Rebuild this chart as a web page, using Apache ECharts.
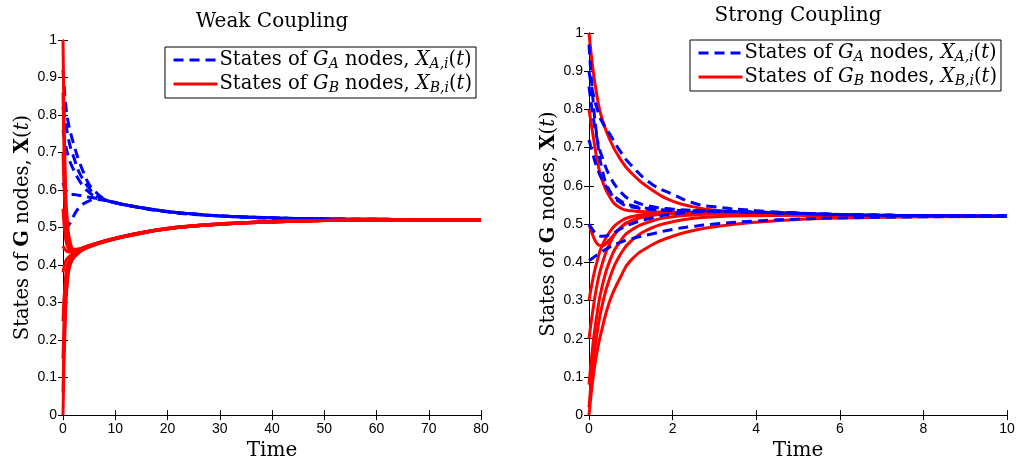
<!DOCTYPE html>
<html>
<head>
<meta charset="utf-8">
<script src="https://cdn.jsdelivr.net/npm/echarts@6/dist/echarts.min.js"></script>
<style>
  html, body { margin: 0; padding: 0; background: #fff; }
  #chart { width: 1019px; height: 466px; }
</style>
</head>
<body>
<div id="chart"></div>
<script>
// ---- Weak coupling: node states over time ----
const weakTime = [0, 0.5, 1, 1.5, 2, 3, 4, 5, 6, 8, 10, 15, 20, 25, 30, 40, 50, 60, 70, 80];

// G_A nodes (dashed blue)
const weakA1 = [0.92, 0.83, 0.78, 0.75, 0.725, 0.68, 0.645, 0.615, 0.598, 0.576, 0.567, 0.553, 0.543, 0.536, 0.531, 0.526, 0.523, 0.522, 0.521, 0.521];
const weakA2 = [0.82, 0.78, 0.74, 0.71, 0.69, 0.65, 0.625, 0.605, 0.59, 0.575, 0.566, 0.553, 0.543, 0.536, 0.531, 0.526, 0.523, 0.522, 0.521, 0.521];
const weakA3 = [0.76, 0.72, 0.69, 0.67, 0.655, 0.628, 0.608, 0.594, 0.584, 0.574, 0.566, 0.552, 0.542, 0.535, 0.531, 0.525, 0.523, 0.522, 0.521, 0.521];
const weakA4 = [0.62, 0.6, 0.59, 0.588, 0.588, 0.586, 0.584, 0.581, 0.579, 0.573, 0.566, 0.553, 0.543, 0.536, 0.531, 0.526, 0.523, 0.522, 0.521, 0.521];
const weakA5 = [0.5, 0.5, 0.505, 0.515, 0.53, 0.552, 0.564, 0.571, 0.575, 0.573, 0.566, 0.553, 0.542, 0.536, 0.531, 0.525, 0.523, 0.522, 0.521, 0.521];

// G_B nodes (solid red)
const weakB1 = [1.0, 0.6, 0.49, 0.455, 0.442, 0.443, 0.448, 0.452, 0.456, 0.464, 0.471, 0.487, 0.498, 0.505, 0.51, 0.516, 0.519, 0.52, 0.521, 0.521];
const weakB2 = [0.86, 0.56, 0.475, 0.448, 0.44, 0.442, 0.447, 0.452, 0.456, 0.465, 0.472, 0.487, 0.498, 0.505, 0.51, 0.516, 0.519, 0.52, 0.521, 0.521];
const weakB3 = [0.7, 0.52, 0.46, 0.442, 0.437, 0.441, 0.446, 0.451, 0.456, 0.464, 0.471, 0.486, 0.497, 0.505, 0.51, 0.516, 0.519, 0.52, 0.521, 0.521];
const weakB4 = [0.55, 0.47, 0.445, 0.436, 0.435, 0.44, 0.446, 0.451, 0.455, 0.464, 0.471, 0.486, 0.497, 0.504, 0.509, 0.516, 0.519, 0.52, 0.521, 0.521];
const weakB5 = [0.38, 0.41, 0.42, 0.426, 0.43, 0.438, 0.445, 0.45, 0.455, 0.464, 0.471, 0.486, 0.497, 0.504, 0.509, 0.515, 0.519, 0.52, 0.521, 0.521];
const weakB6 = [0.25, 0.37, 0.405, 0.418, 0.426, 0.436, 0.444, 0.45, 0.455, 0.463, 0.47, 0.486, 0.497, 0.504, 0.509, 0.515, 0.519, 0.52, 0.521, 0.521];
const weakB7 = [0.15, 0.34, 0.395, 0.414, 0.424, 0.435, 0.443, 0.449, 0.454, 0.463, 0.47, 0.485, 0.497, 0.504, 0.509, 0.515, 0.519, 0.52, 0.521, 0.521];
const weakB8 = [0.06, 0.31, 0.385, 0.41, 0.421, 0.434, 0.443, 0.449, 0.454, 0.463, 0.47, 0.485, 0.497, 0.504, 0.509, 0.515, 0.519, 0.52, 0.521, 0.521];
const weakB9 = [0.0, 0.28, 0.375, 0.405, 0.418, 0.432, 0.442, 0.448, 0.453, 0.462, 0.47, 0.485, 0.496, 0.504, 0.509, 0.515, 0.519, 0.52, 0.521, 0.521];
const weakB10 = [0.45, 0.44, 0.435, 0.434, 0.434, 0.44, 0.446, 0.451, 0.455, 0.464, 0.471, 0.486, 0.497, 0.504, 0.509, 0.516, 0.519, 0.52, 0.521, 0.521];

// ---- Strong coupling: node states over time ----
const strongTime = [0, 0.1, 0.2, 0.3, 0.5, 0.75, 1, 1.5, 2, 2.5, 3, 4, 5, 6, 8, 10];

const strongA1 = [0.9, 0.84, 0.8, 0.77, 0.735, 0.69, 0.655, 0.605, 0.578, 0.555, 0.545, 0.535, 0.529, 0.525, 0.522, 0.521];
const strongA2 = [0.97, 0.82, 0.72, 0.65, 0.585, 0.556, 0.545, 0.538, 0.535, 0.534, 0.533, 0.531, 0.528, 0.525, 0.522, 0.521];
const strongA3 = [0.86, 0.78, 0.72, 0.68, 0.625, 0.585, 0.563, 0.546, 0.539, 0.536, 0.534, 0.531, 0.528, 0.525, 0.522, 0.521];
const strongA4 = [0.72, 0.68, 0.645, 0.62, 0.585, 0.561, 0.549, 0.54, 0.536, 0.535, 0.534, 0.531, 0.528, 0.525, 0.522, 0.521];
const strongA5 = [0.5, 0.483, 0.472, 0.468, 0.472, 0.487, 0.5, 0.516, 0.526, 0.531, 0.533, 0.531, 0.528, 0.525, 0.522, 0.521];
const strongA6 = [0.405, 0.412, 0.42, 0.427, 0.44, 0.452, 0.461, 0.474, 0.486, 0.494, 0.5, 0.508, 0.513, 0.516, 0.519, 0.521];

const strongB1 = [1.0, 0.9, 0.83, 0.78, 0.72, 0.67, 0.635, 0.59, 0.56, 0.545, 0.536, 0.527, 0.524, 0.522, 0.521, 0.52];
const strongB2 = [0.8, 0.73, 0.665, 0.62, 0.57, 0.542, 0.535, 0.532, 0.531, 0.53, 0.529, 0.527, 0.525, 0.523, 0.521, 0.52];
const strongB3 = [0.5, 0.468, 0.448, 0.443, 0.46, 0.49, 0.508, 0.524, 0.528, 0.529, 0.529, 0.527, 0.525, 0.523, 0.521, 0.52];
const strongB4 = [0.3, 0.36, 0.405, 0.44, 0.48, 0.507, 0.519, 0.527, 0.529, 0.529, 0.529, 0.527, 0.525, 0.523, 0.521, 0.52];
const strongB5 = [0.2, 0.28, 0.345, 0.39, 0.45, 0.49, 0.508, 0.522, 0.527, 0.528, 0.528, 0.527, 0.525, 0.523, 0.521, 0.52];
const strongB6 = [0.08, 0.19, 0.27, 0.33, 0.405, 0.455, 0.483, 0.508, 0.519, 0.524, 0.526, 0.526, 0.525, 0.523, 0.521, 0.52];
const strongB7 = [0.02, 0.14, 0.22, 0.28, 0.36, 0.42, 0.455, 0.49, 0.506, 0.515, 0.519, 0.522, 0.523, 0.522, 0.521, 0.52];
const strongB8 = [0.0, 0.1, 0.17, 0.22, 0.3, 0.36, 0.405, 0.445, 0.468, 0.483, 0.493, 0.505, 0.512, 0.516, 0.519, 0.52];

// ---- Axis ticks ----
const weakXTicks = [0, 10, 20, 30, 40, 50, 60, 70, 80];
const strongXTicks = [0, 2, 4, 6, 8, 10];
const yTicks = [0, 0.1, 0.2, 0.3, 0.4, 0.5, 0.6, 0.7, 0.8, 0.9, 1];

const weakA = [weakA1, weakA2, weakA3, weakA4, weakA5];
const weakB = [weakB1, weakB2, weakB3, weakB4, weakB5, weakB6, weakB7, weakB8, weakB9, weakB10];
const strongA = [strongA1, strongA2, strongA3, strongA4, strongA5, strongA6];
const strongB = [strongB1, strongB2, strongB3, strongB4, strongB5, strongB6, strongB7, strongB8];

const SERIF = '"DejaVu Serif", "Liberation Serif", serif';
const SANS = 'Liberation Sans';
const BLUE = '#0000ff';
const RED = '#ff0000';
const NAME_A = 'GA';
const NAME_B = 'GB';

function pairs(time, vals) {
  return time.map((t, i) => [t, vals[i]]);
}

function nodeSeries(name, time, vals, grid, color, dashed, z) {
  return {
    type: 'line',
    name: name,
    xAxisIndex: grid * 2,
    yAxisIndex: grid * 2,
    data: pairs(time, vals),
    symbol: 'none',
    showSymbol: false,
    smooth: 0.5,
    z: z,
    silent: true,
    lineStyle: { color: color, width: 3, type: dashed ? [10, 6] : 'solid', cap: 'butt', join: 'round' },
    itemStyle: { color: color }
  };
}

const series = [];
weakA.forEach(v => series.push(nodeSeries(NAME_A, weakTime, v, 0, BLUE, true, 2)));
weakB.forEach(v => series.push(nodeSeries(NAME_B, weakTime, v, 0, RED, false, 3)));
strongB.forEach(v => series.push(nodeSeries(NAME_B, strongTime, v, 1, RED, false, 2)));
strongA.forEach(v => series.push(nodeSeries(NAME_A, strongTime, v, 1, BLUE, true, 3)));

const tickStyle = { show: true, inside: true, length: 5, lineStyle: { color: '#000', width: 1 } };
const lineStyleAxis = { show: true, lineStyle: { color: '#000', width: 1 } };
const labelStyle = { color: '#000', fontFamily: SANS, fontSize: 14 };

function xAxisPair(grid, ticks) {
  const min = ticks[0], max = ticks[ticks.length - 1], interval = ticks[1] - ticks[0];
  return [
    {
      type: 'value', gridIndex: grid, min, max, interval, position: 'bottom',
      name: 'Time', nameLocation: 'middle', nameGap: 22,
      nameTextStyle: { fontFamily: SERIF, fontSize: 20, color: '#000' },
      axisLine: lineStyleAxis, axisTick: tickStyle,
      axisLabel: Object.assign({ margin: 7 }, labelStyle),
      splitLine: { show: false }
    },
    {
      type: 'value', gridIndex: grid, min, max, interval, position: 'top',
      axisLine: lineStyleAxis, axisTick: tickStyle,
      axisLabel: { show: false }, splitLine: { show: false }
    }
  ];
}

function yAxisPair(grid) {
  const min = yTicks[0], max = yTicks[yTicks.length - 1], interval = yTicks[1] - yTicks[0];
  return [
    {
      type: 'value', gridIndex: grid, min, max, interval, position: 'left',
      name: 'States of {b|G} nodes, {b|X}({i|t})',
      nameLocation: 'middle', nameGap: 30, nameRotate: 90,
      nameTextStyle: {
        fontFamily: SERIF, fontSize: 19.5, color: '#000',
        rich: {
          b: { fontFamily: SERIF, fontSize: 19.5, fontWeight: 'bold', color: '#000' },
          i: { fontFamily: SERIF, fontSize: 19.5, fontStyle: 'italic', color: '#000' }
        }
      },
      axisLine: lineStyleAxis, axisTick: tickStyle,
      axisLabel: Object.assign({ margin: 6 }, labelStyle),
      splitLine: { show: false }
    },
    {
      type: 'value', gridIndex: grid, min, max, interval, position: 'right',
      axisLine: lineStyleAxis, axisTick: tickStyle,
      axisLabel: { show: false }, splitLine: { show: false }
    }
  ];
}

const legendRich = {
  n: { fontFamily: SERIF, fontSize: 19.5, fontStyle: 'normal', fontWeight: 'normal', color: '#000', lineHeight: 22 },
  i: { fontFamily: SERIF, fontSize: 19.5, fontStyle: 'italic', fontWeight: 'normal', color: '#000', lineHeight: 22 },
  s: { fontFamily: SERIF, fontSize: 14, fontStyle: 'italic', fontWeight: 'normal', color: '#000', lineHeight: 13, verticalAlign: 'bottom' }
};

function legendText(name) {
  const g = name === NAME_A ? 'A' : 'B';
  return '{n|States of }{i|G}{s|' + g + '}{n| nodes, }{i|X}{s|' + g + ',i}{n|(}{i|t}{n|)}';
}

function legendBox(left, top) {
  return {
    orient: 'vertical', left: left, top: top,
    data: [NAME_A, NAME_B],
    selectedMode: false,
    itemWidth: 44, itemHeight: 14, itemGap: 3,
    padding: [3, 4, 3, 7],
    borderColor: '#000', borderWidth: 1, borderRadius: 0,
    backgroundColor: '#fff',
    lineStyle: { width: 3 },
    itemStyle: { color: 'rgba(0,0,0,0)', borderColor: 'rgba(0,0,0,0)', borderWidth: 0 },
    formatter: legendText,
    textStyle: { fontFamily: SERIF, fontSize: 19.5, color: '#000', padding: [0, 0, 0, -3], rich: legendRich }
  };
}

const chart = echarts.init(document.getElementById('chart'), null, { renderer: 'canvas' });
chart.setOption({
  animation: false,
  backgroundColor: '#fff',
  title: [
    { text: 'Weak Coupling', left: 267, top: 7, textAlign: 'center',
      textStyle: { fontFamily: SERIF, fontSize: 20, fontWeight: 'normal', color: '#000' } },
    { text: 'Strong Coupling', left: 793, top: 1, textAlign: 'center',
      textStyle: { fontFamily: SERIF, fontSize: 20, fontWeight: 'normal', color: '#000' } }
  ],
  legend: [legendBox(165, 47), legendBox(690, 40)],
  grid: [
    { left: 63, top: 40, width: 418, height: 376, containLabel: false },
    { left: 589, top: 33, width: 418, height: 383, containLabel: false }
  ],
  xAxis: [...xAxisPair(0, weakXTicks), ...xAxisPair(1, strongXTicks)],
  yAxis: [...yAxisPair(0), ...yAxisPair(1)],
  series: series
});
</script>
</body>
</html>
